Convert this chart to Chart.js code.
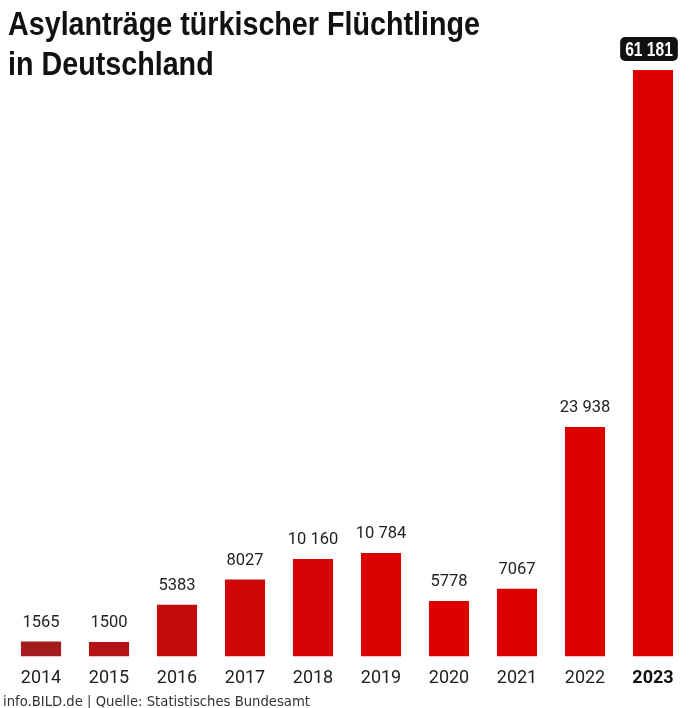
<!DOCTYPE html>
<html>
<head>
<meta charset="utf-8">
<script src="https://cdn.jsdelivr.net/npm/chart.js@4"></script>
<style>
  html, body { margin: 0; padding: 0; background: #fff; }
  #wrap { position: relative; width: 700px; height: 708px; overflow: hidden; }
  #c { position: absolute; left: 0; top: 0; }
  .title { position: absolute; left: 8px; font-family: "Liberation Sans Narrow", "Liberation Sans", sans-serif; font-weight: bold; font-size: 33px; color: #111; white-space: nowrap; transform-origin: 0 0; line-height: 1; }
  #footer { position: absolute; left: 3px; top: 693px; font-family: "DejaVu Sans Condensed", "DejaVu Sans", sans-serif; font-size: 14.5px; color: #333; white-space: nowrap; }
</style>
</head>
<body>
<div id="wrap">
  <canvas id="c" width="700" height="708"></canvas>
  <div class="title" id="t1" style="top:7px">Asylanträge türkischer Flüchtlinge</div>
  <div class="title" id="t2" style="top:47px">in Deutschland</div>
  <div id="footer">info.BILD.de | Quelle: Statistisches Bundesamt</div>
</div>
<script>
const years = ["2014","2015","2016","2017","2018","2019","2020","2021","2022","2023"];
const applications = [1565, 1500, 5383, 8027, 10160, 10784, 5778, 7067, 23938, 61181];
const valueLabels = ["1565","1500","5383","8027","10 160","10 784","5778","7067","23 938","61 181"];
const barColors = ["#a51b1d","#b41416","#c40c0d","#cf0707","#d60404","#da0202","#dc0000","#dc0000","#dc0000","#dd0000"];

// fit title width
(function(){
  const t1 = document.getElementById('t1');
  const w = t1.getBoundingClientRect().width;
  const s = 472 / w;
  t1.style.transform = 'scaleX(' + s + ')';
  document.getElementById('t2').style.transform = 'scaleX(' + s + ')';
  const f = document.getElementById('footer');
  const fw = f.getBoundingClientRect().width;
  f.style.transformOrigin = '0 0';
  f.style.transform = 'scaleX(' + (307 / fw) + ')';
})();

const valueLabelPlugin = {
  id: 'valueLabels',
  afterDatasetsDraw(chart) {
    const ctx = chart.ctx;
    const meta = chart.getDatasetMeta(0);
    meta.data.forEach((bar, i) => {
      const x = bar.x, y = bar.y;
      ctx.save();
      ctx.textAlign = 'center';
      ctx.textBaseline = 'middle';
      if (i === applications.length - 1) {
        ctx.font = 'bold 20px "Liberation Sans", sans-serif';
        const sx = 0.78;
        const tw = ctx.measureText(valueLabels[i]).width * sx;
        const cx = x - 4;
        const bw = tw + 10, bh = 24, by = y - 33;
        ctx.fillStyle = '#111';
        ctx.beginPath();
        ctx.roundRect(cx - bw / 2, by, bw, bh, 5);
        ctx.fill();
        ctx.fillStyle = '#fff';
        ctx.translate(cx, by + bh / 2 + 1);
        ctx.scale(sx, 1);
        ctx.fillText(valueLabels[i], 0, 0);
      } else {
        ctx.font = '16.5px Roboto';
        ctx.fillStyle = '#222';
        ctx.fillText(valueLabels[i], x, y - 19);
      }
      ctx.restore();
    });
  }
};

new Chart(document.getElementById('c'), {
  type: 'bar',
  data: {
    labels: years,
    datasets: [{
      data: applications,
      backgroundColor: barColors,
      borderWidth: 0,
      barPercentage: 0.59,
      categoryPercentage: 1.0
    }]
  },
  options: {
    responsive: false,
    animation: false,
    devicePixelRatio: 1,
    layout: { padding: { top: 70, left: 7, right: 13, bottom: 16 } },
    plugins: { legend: { display: false }, tooltip: { enabled: false }, title: { display: false } },
    scales: {
      y: { display: false, min: 0, max: 61181 },
      x: {
        grid: { display: false },
        border: { display: false },
        ticks: {
          padding: 3,
          color: (c) => c.index === 9 ? '#111' : '#222',
          font: (c) => ({ family: 'Roboto', size: 18, weight: c.index === 9 ? 'bold' : 'normal' })
        }
      }
    }
  },
  plugins: [valueLabelPlugin]
});
</script>
</body>
</html>
